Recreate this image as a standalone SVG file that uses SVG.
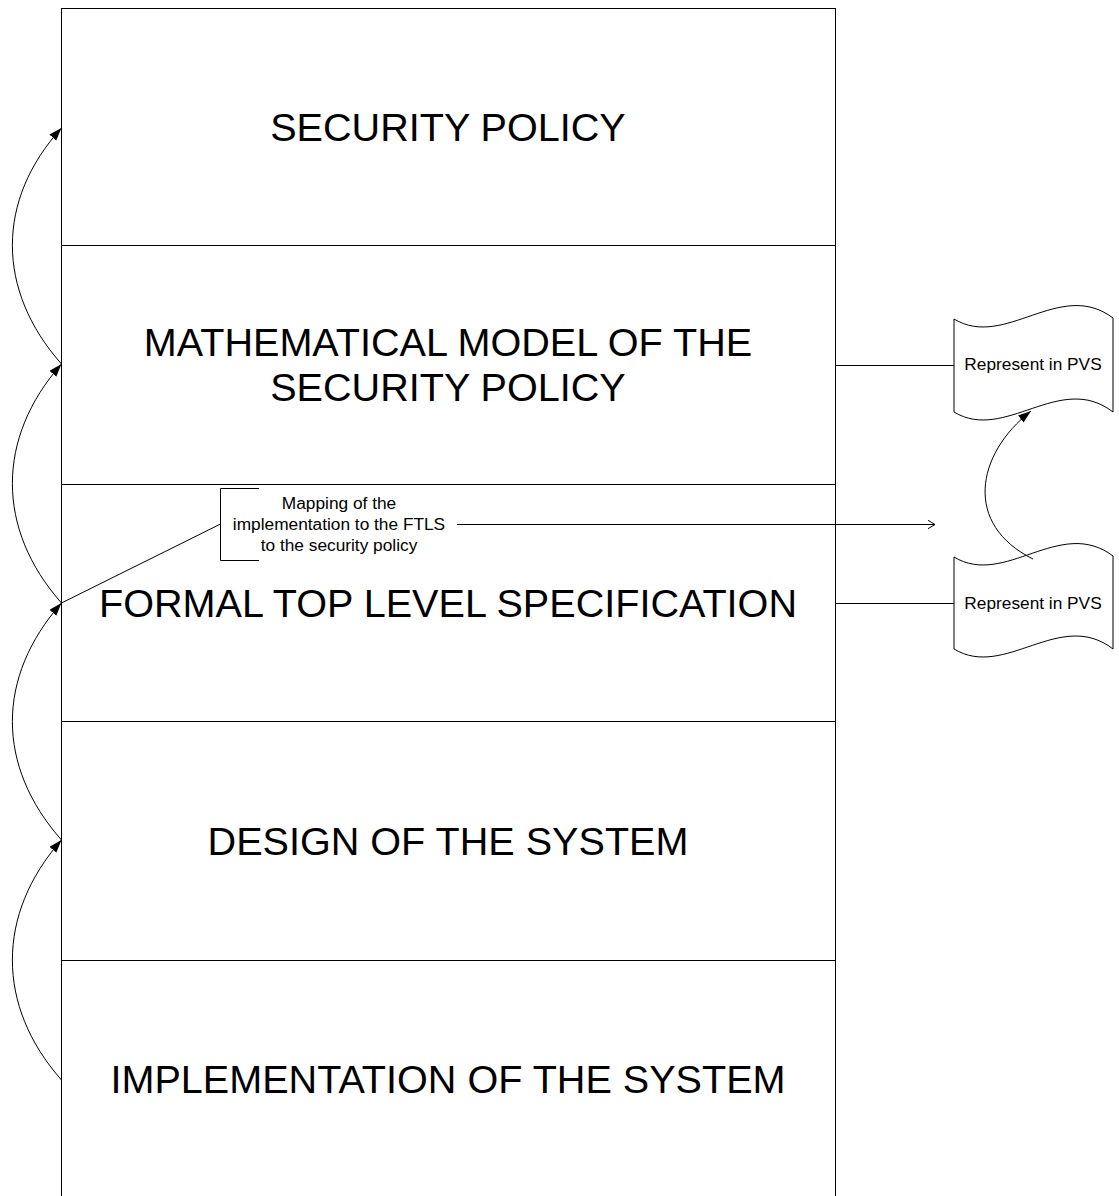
<svg xmlns="http://www.w3.org/2000/svg" width="1119" height="1196" viewBox="0 0 1119 1196">
<style>
.band{fill:#fff;stroke:#000;stroke-width:1}
.big{font-family:"Liberation Sans",Arial,sans-serif;font-size:39.6px;fill:#000;text-anchor:middle}
.small{font-family:"Liberation Sans",Arial,sans-serif;font-size:17.3px;fill:#000;text-anchor:middle}
.doc{fill:#fff;stroke:#000;stroke-width:1}
.ln{fill:none;stroke:#000;stroke-width:1}
</style>
<defs>
<marker id="arrowFilled" markerUnits="userSpaceOnUse" markerWidth="14" markerHeight="10" refX="13" refY="4.5" orient="auto">
<path d="M0,0 L13,4.5 L0,9 z" fill="#000"/>
</marker>
<marker id="arrowOpen" markerUnits="userSpaceOnUse" markerWidth="10" markerHeight="10" refX="7.5" refY="4.5" orient="auto">
<path d="M0,0 L7.5,4.5 L0,9" fill="none" stroke="#000" stroke-width="1"/>
</marker>
</defs>
<rect width="1119" height="1196" fill="#fff"/>
<g id="security-policy">
<rect class="band" x="61.5" y="8.5" width="774" height="237"/>
<text class="big" x="448" y="140.7">SECURITY POLICY</text>
</g>
<g id="mathematical-model">
<rect class="band" x="61.5" y="245.5" width="774" height="239"/>
<text class="big" x="448" y="355.5">MATHEMATICAL MODEL OF THE</text>
<text class="big" x="448" y="401">SECURITY POLICY</text>
</g>
<g id="ftls">
<rect class="band" x="61.5" y="484.5" width="774" height="237"/>
<text class="big" x="448" y="616.5">FORMAL TOP LEVEL SPECIFICATION</text>
</g>
<g id="design">
<rect class="band" x="61.5" y="721.5" width="774" height="239"/>
<text class="big" x="448" y="854.7">DESIGN OF THE SYSTEM</text>
</g>
<g id="implementation">
<rect class="band" x="61.5" y="960.5" width="774" height="260"/>
<text class="big" x="448" y="1093">IMPLEMENTATION OF THE SYSTEM</text>
</g>
<g id="pvs-model">
<path class="doc" d="M954,319 C1005,350 1060,278 1113,318 L1113,412 C1060,371 1005,443 954,412 Z"/>
<text class="small" x="1033" y="370">Represent in PVS</text>
</g>
<g id="pvs-ftls">
<path class="doc" d="M954,557 C1005,588 1060,516 1113,556 L1113,649 C1060,608 1005,680 954,649 Z"/>
<text class="small" x="1033" y="609">Represent in PVS</text>
</g>
<g id="mapping-note">
<path class="ln" d="M259,488.5 L220.5,488.5 L220.5,560.5 L259,560.5"/>
<text class="small" x="339" y="509">Mapping of the</text>
<text class="small" x="339" y="530">implementation to the FTLS</text>
<text class="small" x="339" y="551">to the security policy</text>
</g>
<g id="connectors">
<path class="ln" marker-end="url(#arrowFilled)" d="M61.5,364 C-4,290 -4,200 61.5,128"/>
<path class="ln" marker-end="url(#arrowFilled)" d="M61.5,603 C-4,529 -4,438 61.5,364"/>
<path class="ln" marker-end="url(#arrowFilled)" d="M61.5,840 C-4,766 -4,677 61.5,603"/>
<path class="ln" marker-end="url(#arrowFilled)" d="M61.5,1080 C-4,1006 -4,914 61.5,840"/>
<path class="ln" d="M835.5,365.5 L954,365.5"/>
<path class="ln" d="M835.5,603.5 L954,603.5"/>
<path class="ln" marker-end="url(#arrowFilled)" d="M1033,559 C964,525 975,455 1031,411"/>
<path class="ln" d="M220.5,524 L61.5,603"/>
<path class="ln" marker-end="url(#arrowOpen)" d="M457,524.5 L935,524.5"/>
</g>
</svg>
